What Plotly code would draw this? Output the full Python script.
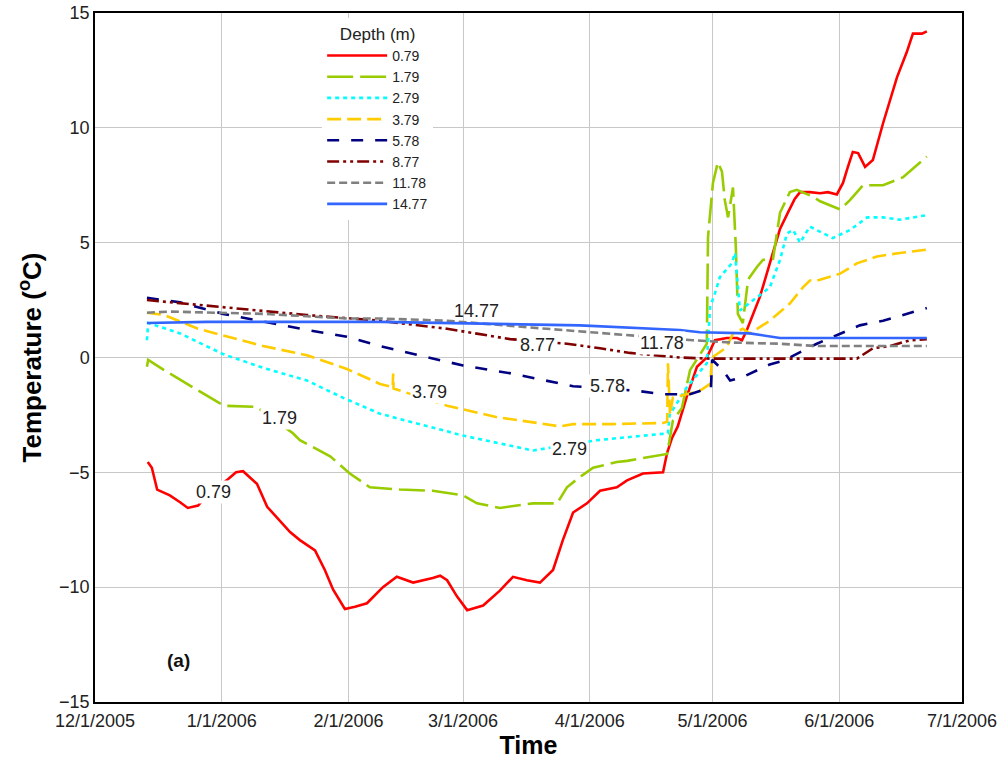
import datetime as dt
import plotly.graph_objects as go

# Ground temperature records at several depths, winter 2005 to summer 2006.
# Times are days after 1 Dec 2005, temperatures in degrees C.
START = dt.datetime(2005, 12, 1)

days_079 = [12.9, 13.9, 15.2, 18.3, 20.8, 22.7, 25.2, 27.4, 32.5, 34.5, 36.2, 38.4, 39.6,
            42.1, 45.2, 47.7, 50.1, 53.8, 56.2, 58.2, 61.1, 63.6, 66.5, 70.4, 73.8, 77.8,
            82.6, 84.4, 86.1, 88.5, 91.0, 94.9, 99.0, 102.2, 105.6, 108.8, 112.0, 114.4,
            116.9, 120.3, 123.5, 127.6, 130.1, 134.0, 138.9, 139.9, 141.1, 142.5, 144.7,
            147.2, 149.6, 151.6, 154.5, 157.0, 158.2, 159.4, 162.6, 165.0, 167.5, 169.4,
            171.1, 172.4, 174.8, 177.3, 179.2, 181.4, 182.9, 184.1, 185.3, 186.6, 188.3,
            190.2, 192.7, 196.1, 198.5, 200.0, 202.2, 203.4]
temp_079 = [-4.55, -4.8, -5.75, -6.0, -6.3, -6.55, -6.45, -6.0, -5.3, -5.0, -4.95, -5.3, -5.5,
            -6.5, -7.1, -7.6, -7.95, -8.4, -9.25, -10.1, -10.95, -10.85, -10.7, -10.0, -9.55,
            -9.8, -9.6, -9.5, -9.7, -10.4, -11.0, -10.8, -10.15, -9.55, -9.7, -9.8, -9.25,
            -7.95, -6.75, -6.35, -5.8, -5.65, -5.35, -5.05, -5.0, -4.15, -3.5, -3.0, -1.7,
            -0.4, 0.0, 0.75, 0.85, 0.85, 0.75, 1.2, 2.65, 4.1, 5.6, 6.3, 6.9, 7.2, 7.2, 7.15,
            7.2, 7.1, 7.6, 8.3, 8.95, 8.9, 8.3, 8.6, 10.2, 12.2, 13.3, 14.1, 14.1, 14.2]

days_179 = [12.7, 13.0, 16.9, 25.2, 31.5, 39.6, 48.4, 50.1, 57.5, 62.3, 67.2, 74.6, 82.6,
            90.0, 93.4, 99.0, 107.1, 113.0, 115.4, 118.6, 121.8, 127.6, 130.1, 139.9, 140.6,
            141.3, 143.5, 145.5, 149.6, 149.9, 151.1, 152.3, 153.3, 154.0, 154.8, 156.0,
            156.7, 157.2, 158.4, 159.7, 161.9, 163.3, 165.8, 167.5, 169.9, 171.6, 175.6,
            177.3, 182.2, 184.6, 187.8, 192.7, 197.6, 203.4]
temp_179 = [-0.4, -0.1, -0.55, -1.45, -2.1, -2.15, -3.3, -3.6, -4.3, -5.05, -5.65, -5.75, -5.8,
            -6.0, -6.35, -6.55, -6.35, -6.35, -5.65, -5.2, -4.8, -4.55, -4.5, -4.2, -3.5,
            -2.75, -2.2, -0.55, 0.6, 5.25, 7.6, 8.5, 8.1, 6.85, 6.1, 7.4, 4.8, 1.9, 1.5, 3.4,
            3.95, 4.25, 4.3, 6.3, 7.2, 7.3, 7.0, 6.8, 6.45, 6.85, 7.5, 7.5, 7.85, 8.75]

days_279 = [12.7, 13.0, 20.8, 31.3, 41.1, 51.8, 60.6, 69.7, 90.0, 107.1, 122.7, 138.9, 140.1,
            140.5, 144.7, 149.6, 150.4, 151.6, 152.8, 155.7, 156.5, 157.7, 160.9, 165.0,
            167.5, 169.2, 170.7, 172.4, 174.8, 180.4, 184.6, 188.8, 192.7, 196.8, 203.4]
temp_279 = [0.75, 1.5, 1.05, 0.15, -0.45, -1.0, -1.75, -2.45, -3.4, -4.05, -3.6, -3.3, -3.3,
            -2.5, -1.3, -0.25, 2.2, 2.8, 3.5, 4.1, 4.55, 2.05, 2.5, 3.05, 4.25, 5.4, 5.55, 5.0,
            5.7, 5.2, 5.55, 6.1, 6.1, 6.0, 6.2]

days_379 = [12.7, 16.9, 25.2, 31.3, 41.1, 51.8, 61.6, 69.7, 72.8, 72.9, 73.0, 86.1, 98.3,
            108.1, 113.7, 116.9, 126.7, 138.9, 139.9, 140.1, 140.6, 141.3, 147.9, 150.4,
            150.9, 154.5, 156.0, 158.4, 160.1, 165.0, 169.9, 173.1, 174.8, 176.5, 182.2,
            186.3, 191.2, 196.8, 203.4]
temp_379 = [1.95, 1.85, 1.25, 0.95, 0.5, 0.1, -0.5, -1.15, -1.3, -0.7, -1.35, -2.1, -2.6,
            -2.85, -3.0, -2.9, -2.9, -2.85, -2.8, -0.25, -2.5, -1.75, -1.45, -1.15, 0.0, 0.45,
            1.05, 1.25, 1.05, 1.6, 2.35, 3.05, 3.35, 3.35, 3.65, 4.1, 4.4, 4.55, 4.7]

days_578 = [12.7, 20.8, 31.3, 41.1, 51.8, 61.6, 69.7, 90.0, 102.0, 116.9, 132.5, 138.9,
            145.5, 149.6, 150.6, 150.9, 153.5, 155.3, 158.4, 165.0, 168.2, 176.5, 182.2,
            187.0, 192.7, 197.6, 203.4]
temp_578 = [2.6, 2.4, 1.9, 1.55, 1.2, 0.9, 0.5, -0.35, -0.7, -1.25, -1.45, -1.6, -1.6, -1.35,
            -1.35, -0.1, -0.55, -1.0, -0.85, -0.3, -0.15, 0.6, 1.05, 1.4, 1.6, 1.85, 2.15]

days_877 = [12.7, 31.3, 51.8, 69.7, 86.1, 101.5, 115.4, 123.5, 130.8, 143.0, 150.4, 186.3,
            190.2, 194.4, 199.3, 203.4]
temp_877 = [2.5, 2.2, 1.85, 1.6, 1.25, 0.8, 0.6, 0.4, 0.2, 0.0, -0.05, -0.05, 0.4, 0.5, 0.75,
            0.8]

days_1178 = [12.7, 18.3, 41.1, 61.6, 69.7, 86.1, 110.5, 130.8, 146.2, 156.0, 167.5, 176.5,
             203.4]
temp_1178 = [1.95, 2.0, 1.9, 1.7, 1.7, 1.6, 1.25, 0.95, 0.75, 0.65, 0.6, 0.5, 0.5]

days_1477 = [12.7, 27.4, 69.7, 118.6, 143.0, 147.9, 160.1, 167.5, 176.5, 203.4]
temp_1477 = [1.5, 1.55, 1.55, 1.4, 1.2, 1.1, 1.05, 0.85, 0.85, 0.85]

depth_names = ["0.79", "1.79", "2.79", "3.79", "5.78", "8.77", "11.78", "14.77"]
series_days = [days_079, days_179, days_279, days_379, days_578, days_877, days_1178, days_1477]
series_temp = [temp_079, temp_179, temp_279, temp_379, temp_578, temp_877, temp_1178, temp_1477]

# Inline depth labels: (text, day, temperature)
label_text = ["0.79", "1.79", "2.79", "3.79", "5.78", "8.77", "11.78", "14.77"]
label_day = [28.9, 45.2, 116.1, 81.9, 125.4, 108.3, 138.6, 93.4]
label_temp = [-5.86, -2.63, -3.98, -1.5, -1.24, 0.54, 0.63, 2.02]

colors = ["#FF0000", "#99CC00", "#00FFFF", "#FFCC00", "#000080", "#800000", "#808080", "#3366FF"]
dashes = ["solid", "26px,7px", "4px,4px", "14px,6px", "12px,12px",
          "12px,4px,3px,4px,3px,4px", "8px,4px", "solid"]


def to_dates(days):
    return [START + dt.timedelta(days=d) for d in days]


FONT = "Liberation Sans, Arial, sans-serif"

fig = go.Figure()
for name, d, t, c, ds in zip(depth_names, series_days, series_temp, colors, dashes):
    fig.add_trace(go.Scatter(
        x=to_dates(d), y=t, mode="lines", name=name,
        line=dict(color=c, width=2.6, dash=ds),
    ))

for txt, d, t in zip(label_text, label_day, label_temp):
    fig.add_annotation(
        x=START + dt.timedelta(days=d), y=t, text=txt, showarrow=False,
        font=dict(family=FONT, size=18, color="#222222"),
        bgcolor="white" if txt != "14.77" else "rgba(0,0,0,0)",
        borderpad=1,
    )

fig.add_annotation(
    x=START + dt.timedelta(days=20.3), y=-13.2, text="<b>(a)</b>", showarrow=False,
    font=dict(family=FONT, size=19, color="#111111"),
)

month_ticks = [dt.datetime(2005, 12, 1)] + [dt.datetime(2006, m, 1) for m in range(1, 8)]

fig.update_layout(
    width=1007, height=759,
    margin=dict(l=95, r=45, t=13, b=57),
    paper_bgcolor="white", plot_bgcolor="white",
    font=dict(family=FONT, color="#222222"),
    showlegend=True,
    legend=dict(
        x=0.262, y=0.993, xanchor="left", yanchor="top",
        bgcolor="white", borderwidth=0,
        font=dict(family=FONT, size=14, color="#222222"),
        title=dict(text="Depth (m)", side="top center",
                   font=dict(family=FONT, size=17, color="#222222")),
        itemwidth=60, tracegroupgap=0,
    ),
    xaxis=dict(
        type="date", automargin=False,
        range=[month_ticks[0], month_ticks[-1]],
        tickvals=month_ticks,
        ticktext=[f"{m.month}/{m.day}/{m.year}" for m in month_ticks],
        showgrid=True, gridcolor="#C8C8C8", gridwidth=1,
        showline=True, linecolor="#000000", linewidth=1.5, mirror=True,
        ticks="", ticklabelstandoff=2,
        tickfont=dict(family=FONT, size=18, color="#222222"),
        title=dict(text="<b>Time</b>", font=dict(family=FONT, size=25, color="#000000"),
                   standoff=6),
        zeroline=False,
    ),
    yaxis=dict(
        automargin=False,
        range=[-15, 15], tickvals=[-15, -10, -5, 0, 5, 10, 15],
        showgrid=True, gridcolor="#C8C8C8", gridwidth=1,
        showline=True, linecolor="#000000", linewidth=1.5, mirror=True,
        ticks="", tickfont=dict(family=FONT, size=18, color="#222222"),
        title=dict(text="<b>Temperature (<sup>o</sup>C)</b>",
                   font=dict(family=FONT, size=26, color="#000000"), standoff=10),
        zeroline=False,
    ),
)

fig.write_html("out.html")
